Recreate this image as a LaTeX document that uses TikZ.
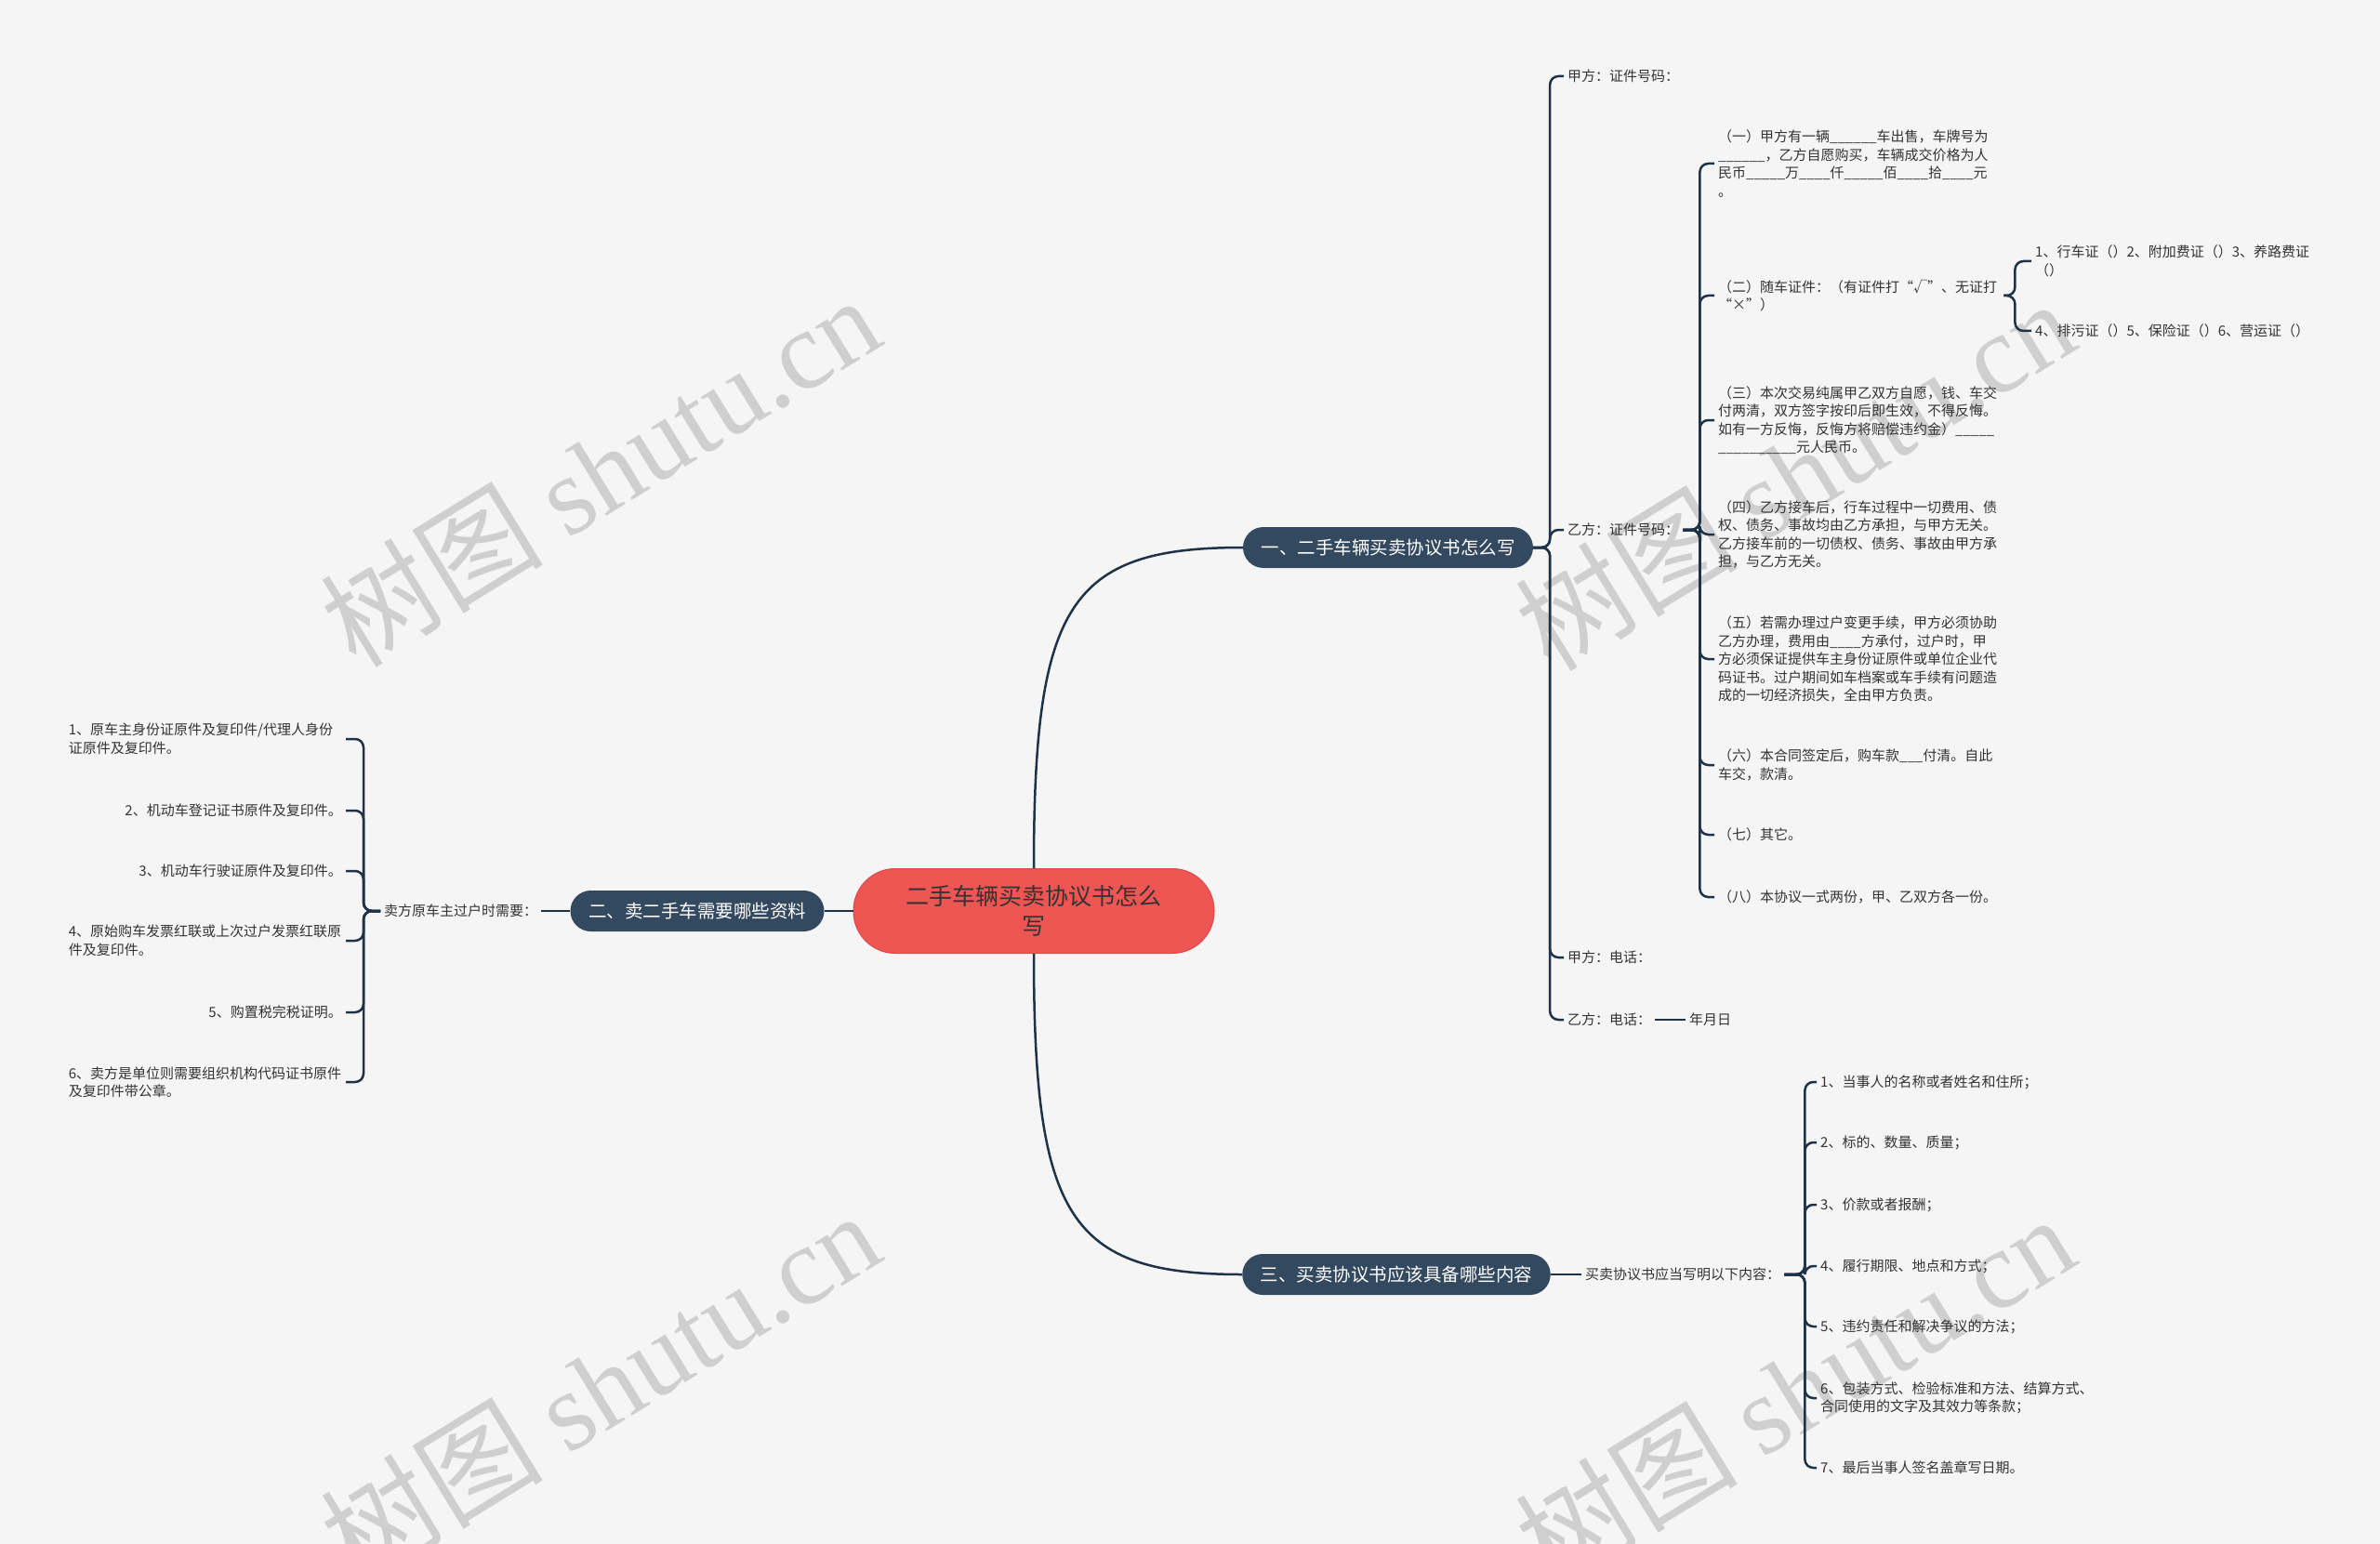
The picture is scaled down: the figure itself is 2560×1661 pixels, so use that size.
\documentclass[tikz,border=0pt]{standalone}
\usepackage{fontspec}
\setmainfont{Noto Sans CJK SC}
\newfontfamily\wmlatin{Liberation Serif}
\newfontfamily\wmcjk{Noto Sans CJK SC}
\definecolor{bg}{HTML}{F5F5F5}
\definecolor{linec}{HTML}{1E3248}
\definecolor{branchc}{HTML}{33495F}
\definecolor{rootc}{HTML}{EF5552}
\definecolor{rootd}{HTML}{D64A47}
\definecolor{txt}{HTML}{333333}
\definecolor{wm}{HTML}{CFCFCF}
\tikzset{
  leaf/.style={font=\fontsize{15}{19.5}\selectfont, text=txt, align=left, inner xsep=4pt, inner ysep=2pt},
  leafw/.style={leaf, text width=303pt},
  leafl/.style={leaf, text width=294pt},
  branch/.style={fill=branchc, text=white, rounded corners=22pt, minimum height=44pt, inner xsep=19.5pt, inner ysep=0pt, font=\fontsize{19.5}{24}\selectfont},
  root/.style={fill=rootc, draw=rootd, line width=1pt, rounded corners=45pt, minimum width=388pt, minimum height=91pt, font=\fontsize{25}{32}\selectfont, text=txt, align=center},
  conn/.style={draw=linec, line width=2.5pt, rounded corners=9pt},
  wmark/.style={text=wm, rotate=31.6, inner sep=0pt, font=\fontsize{120}{120}\selectfont}
}
\begin{document}
\begin{tikzpicture}[x=1pt,y=-1pt]
\useasboundingbox (0,0) rectangle (2560,1661);
\fill[bg] (0,0) rectangle (2560,1661);
\clip (0,0) rectangle (2560,1661);
% watermarks
\node[wmark] (w1) at (645,506) {{\wmcjk 树图} {\wmlatin shutu.cn}};
\node[wmark] (w2) at (1930,510) {{\wmcjk 树图} {\wmlatin shutu.cn}};
\node[wmark] (w3) at (645,1491) {{\wmcjk 树图} {\wmlatin shutu.cn}};
\node[wmark] (w4) at (1930,1495) {{\wmcjk 树图} {\wmlatin shutu.cn}};
% main nodes
\node[root] (c) at (1112,980) {二手车辆买卖协议书怎么\\写};
\node[branch] (b1) at (1493,589) {一、二手车辆买卖协议书怎么写};
\node[branch] (b2) at (750,980) {二、卖二手车需要哪些资料};
\node[branch] (b3) at (1502,1371) {三、买卖协议书应该具备哪些内容};
% branch 1
\node[leaf,anchor=west] (a1) at (1682,82) {甲方：证件号码：};
\node[leaf,anchor=west] (a2) at (1682,570) {乙方：证件号码：};
\node[leaf,anchor=west] (a3) at (1682,1030) {甲方：电话：};
\node[leaf,anchor=west] (a4) at (1682,1097) {乙方：电话：};
\node[leaf,anchor=west] (a5) at (1813,1097) {年月日};
\node[leafw,anchor=west] (p1) at (1844,176) {（一）甲方有一辆\_\_\_\_\_\_车出售，车牌号为\\\_\_\_\_\_\_，乙方自愿购买，车辆成交价格为人\\民币\_\_\_\_\_万\_\_\_\_仟\_\_\_\_\_佰\_\_\_\_拾\_\_\_\_元\\。};
\node[leafw,anchor=west] (p2) at (1844,318) {（二）随车证件：（有证件打“√”、无证打\\“×”）};
\node[leafw,anchor=west] (p3) at (1844,452) {（三）本次交易纯属甲乙双方自愿，钱、车交\\付两清，双方签字按印后即生效，不得反悔。\\如有一方反悔，反悔方将赔偿违约金）\_\_\_\_\_\\\_\_\_\_\_\_\_\_\_\_元人民币。};
\node[leafw,anchor=west] (p4) at (1844,575) {（四）乙方接车后，行车过程中一切费用、债\\权、债务、事故均由乙方承担，与甲方无关。\\乙方接车前的一切债权、债务、事故由甲方承\\担，与乙方无关。};
\node[leafw,anchor=west] (p5) at (1844,709) {（五）若需办理过户变更手续，甲方必须协助\\乙方办理，费用由\_\_\_\_方承付，过户时，甲\\方必须保证提供车主身份证原件或单位企业代\\码证书。过户期间如车档案或车手续有问题造\\成的一切经济损失，全由甲方负责。};
\node[leafw,anchor=west] (p6) at (1844,823) {（六）本合同签定后，购车款\_\_\_付清。自此\\车交，款清。};
\node[leafw,anchor=west] (p7) at (1844,898) {（七）其它。};
\node[leafw,anchor=west] (p8) at (1844,965) {（八）本协议一式两份，甲、乙双方各一份。};
\node[leaf,anchor=west] (q1) at (2185,281) {1、行车证（）2、附加费证（）3、养路费证\\（）};
\node[leaf,anchor=west] (q2) at (2185,356) {4、排污证（）5、保险证（）6、营运证（）};
% branch 3
\node[leaf,anchor=west] (m) at (1701,1371) {买卖协议书应当写明以下内容：};
\node[leaf,anchor=west] (r1) at (1954,1164) {1、当事人的名称或者姓名和住所；};
\node[leaf,anchor=west] (r2) at (1954,1229) {2、标的、数量、质量；};
\node[leaf,anchor=west] (r3) at (1954,1296) {3、价款或者报酬；};
\node[leaf,anchor=west] (r4) at (1954,1362) {4、履行期限、地点和方式；};
\node[leaf,anchor=west] (r5) at (1954,1427) {5、违约责任和解决争议的方法；};
\node[leaf,anchor=west] (r6) at (1954,1504) {6、包装方式、检验标准和方法、结算方式、\\合同使用的文字及其效力等条款；};
\node[leaf,anchor=west] (r7) at (1954,1579) {7、最后当事人签名盖章写日期。};
% branch 2
\node[leaf,anchor=west] (s) at (409,980) {卖方原车主过户时需要：};
\node[leafl,anchor=east] (t1) at (372,795) {1、原车主身份证原件及复印件/代理人身份\\证原件及复印件。};
\node[leaf,anchor=east] (t2) at (372,872) {2、机动车登记证书原件及复印件。};
\node[leaf,anchor=east] (t3) at (372,937) {3、机动车行驶证原件及复印件。};
\node[leafl,anchor=east] (t4) at (372,1012) {4、原始购车发票红联或上次过户发票红联原\\件及复印件。};
\node[leaf,anchor=east] (t5) at (372,1089) {5、购置税完税证明。};
\node[leafl,anchor=east] (t6) at (372,1164) {6、卖方是单位则需要组织机构代码证书原件\\及复印件带公章。};
% connectors
\draw[conn] (c.north) .. controls (1112,650) and (1150,589) .. (b1.west);
\draw[conn] (c.south) .. controls (1112,1310) and (1150,1371) .. (b3.west);
\draw[conn] (c.west) -- (b2.east);
\foreach \n in {a1,a2,a3,a4} \draw[conn] (b1.east) -- ++(18,0) |- (\n.west);
\foreach \n in {p1,p2,p3,p4,p5,p6,p7,p8} \draw[conn] (a2.east) -- ++(18,0) |- (\n.west);
\foreach \n in {q1,q2} \draw[conn] (p2.east) -- ++(12,0) |- (\n.west);
\draw[conn] (a4.east) -- (a5.west);
\draw[conn] (b3.east) -- (m.west);
\foreach \n in {r1,r2,r3,r4,r5,r6,r7} \draw[conn] (m.east) -- ++(22,0) |- (\n.west);
\draw[conn] (b2.west) -- (s.east);
\foreach \n in {t1,t2,t3,t4,t5,t6} \draw[conn] (s.west) -- ++(-18,0) |- (\n.east);
\end{tikzpicture}
\end{document}
